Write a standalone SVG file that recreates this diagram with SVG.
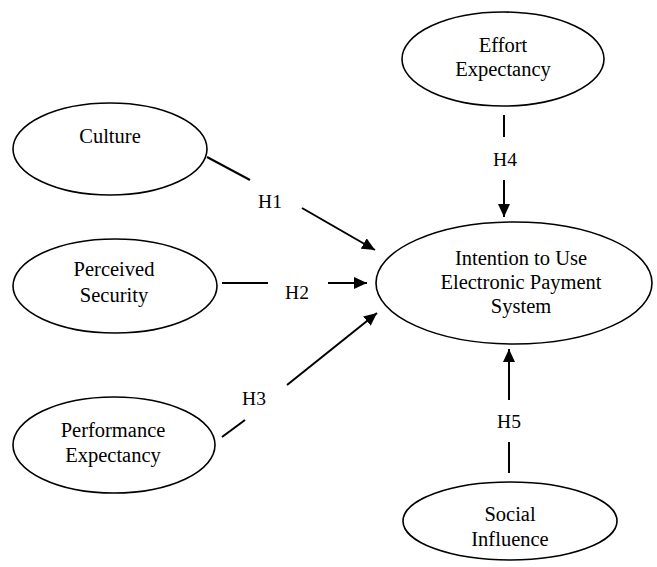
<svg xmlns="http://www.w3.org/2000/svg" width="657" height="567" viewBox="0 0 657 567">
<style>
.node{fill:#fff;stroke:#000;stroke-width:1.6}
.lbl{font-family:"Liberation Serif","Times New Roman",serif;font-size:20.5px;fill:#000;text-anchor:middle}
.h{font-family:"Liberation Serif","Times New Roman",serif;font-size:19.5px;fill:#000;text-anchor:middle}
.c{stroke:#000;stroke-width:2;fill:none}
</style>
<defs>
<marker id="arr" markerUnits="userSpaceOnUse" markerWidth="14" markerHeight="12" refX="13" refY="6" orient="auto">
<path d="M0,0 L13,6 L0,12 z" fill="#000"/>
</marker>
</defs>
<rect width="657" height="567" fill="#fff"/>
<g id="connectors">
<line class="c" x1="207" y1="157" x2="250" y2="180"/>
<line class="c" x1="302" y1="208" x2="375" y2="250" marker-end="url(#arr)"/>
<text class="h" x="270" y="208">H1</text>
<line class="c" x1="222" y1="283" x2="268" y2="283"/>
<line class="c" x1="328" y1="283" x2="367" y2="283" marker-end="url(#arr)"/>
<text class="h" x="297" y="299">H2</text>
<line class="c" x1="222" y1="437" x2="245" y2="420"/>
<line class="c" x1="287" y1="385" x2="377" y2="313" marker-end="url(#arr)"/>
<text class="h" x="254" y="405">H3</text>
<line class="c" x1="504" y1="115" x2="504" y2="137"/>
<line class="c" x1="504" y1="180" x2="504" y2="217" marker-end="url(#arr)"/>
<text class="h" x="505" y="166">H4</text>
<line class="c" x1="509" y1="473" x2="509" y2="442"/>
<line class="c" x1="509" y1="400" x2="509" y2="349" marker-end="url(#arr)"/>
<text class="h" x="509" y="428">H5</text>
</g>
<g id="culture">
<ellipse class="node" cx="110" cy="149" rx="97" ry="46"/>
<text class="lbl" x="110" y="143">Culture</text>
</g>
<g id="perceived-security">
<ellipse class="node" cx="115" cy="286" rx="102" ry="47"/>
<text class="lbl" x="114" y="276">Perceived</text>
<text class="lbl" x="114" y="302">Security</text>
</g>
<g id="performance-expectancy">
<ellipse class="node" cx="114" cy="445" rx="101" ry="48"/>
<text class="lbl" x="113" y="437">Performance</text>
<text class="lbl" x="113" y="462">Expectancy</text>
</g>
<g id="effort-expectancy">
<ellipse class="node" cx="503" cy="59" rx="101" ry="47"/>
<text class="lbl" x="503" y="52">Effort</text>
<text class="lbl" x="503" y="76">Expectancy</text>
</g>
<g id="intention">
<ellipse class="node" cx="514" cy="283" rx="138" ry="61"/>
<text class="lbl" x="521" y="265">Intention to Use</text>
<text class="lbl" x="521" y="289">Electronic Payment</text>
<text class="lbl" x="521" y="313">System</text>
</g>
<g id="social-influence">
<ellipse class="node" cx="510" cy="521" rx="107" ry="39"/>
<text class="lbl" x="510" y="521">Social</text>
<text class="lbl" x="510" y="546">Influence</text>
</g>
</svg>
